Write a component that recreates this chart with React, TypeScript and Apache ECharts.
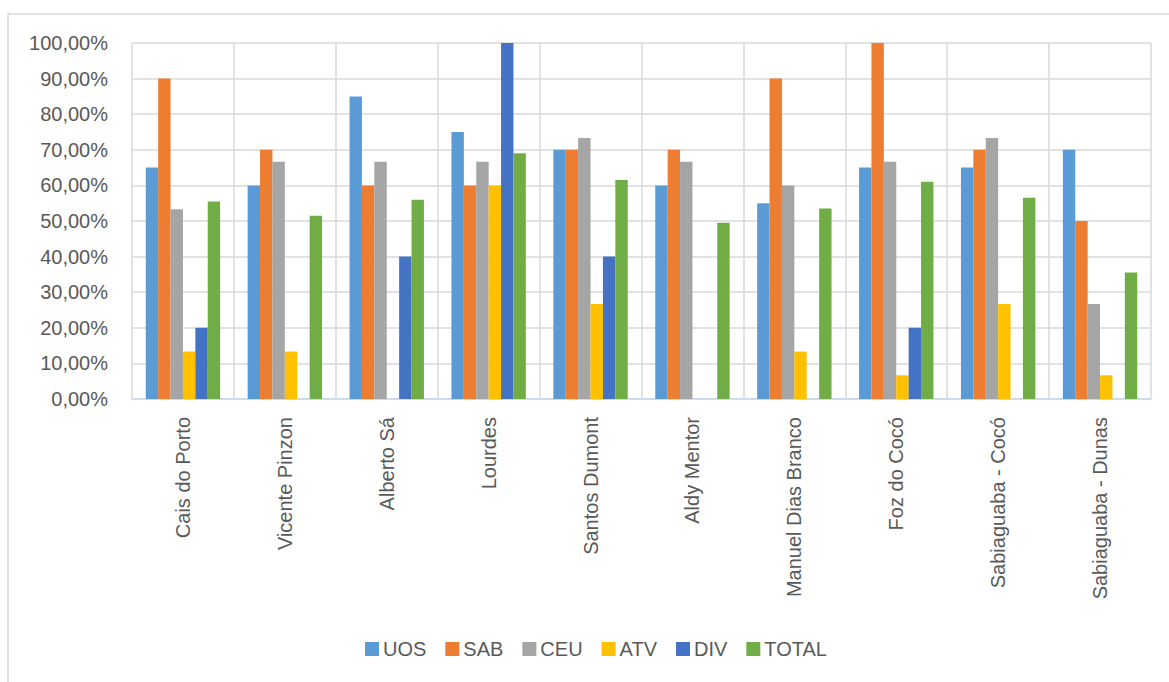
import React, { useEffect, useRef } from "react";
import * as echarts from "echarts";

// Neighbourhoods along the x axis
const categories = [
  "Cais do Porto",
  "Vicente Pinzon",
  "Alberto Sá",
  "Lourdes",
  "Santos Dumont",
  "Aldy Mentor",
  "Manuel Dias Branco",
  "Foz do Cocó",
  "Sabiaguaba - Cocó",
  "Sabiaguaba - Dunas",
];

// Indicator scores, in percent
const uos = [65, 60, 85, 75, 70, 60, 55, 65, 65, 70];
const sab = [90, 70, 60, 60, 70, 70, 90, 100, 70, 50];
const ceu = [53.33, 66.67, 66.67, 66.67, 73.33, 66.67, 60, 66.67, 73.33, 26.67];
const atv = [13.33, 13.33, 0, 60, 26.67, 0, 13.33, 6.67, 26.67, 6.67];
const div = [20, 0, 40, 100, 40, 0, 0, 20, 0, 0];
const total = [55.5, 51.5, 56, 69, 61.5, 49.5, 53.5, 61, 56.5, 35.5];

const seriesNames = ["UOS", "SAB", "CEU", "ATV", "DIV", "TOTAL"];
const seriesData = [uos, sab, ceu, atv, div, total];
const colors = ["#5b9bd5", "#ed7d31", "#a5a5a5", "#ffc000", "#4472c4", "#70ad47"];

const FONT = "'Liberation Sans', Arial, sans-serif";
const TEXT = "#595959";
const GRID = "#d9d9d9";

export default function App() {
  const ref = useRef<HTMLDivElement>(null);

  useEffect(() => {
    if (!ref.current) return;
    const chart = echarts.init(ref.current, undefined, { renderer: "svg" });
    chart.setOption({
      animation: false,
      backgroundColor: "#ffffff",
      color: colors,
      textStyle: { fontFamily: FONT },
      graphic: [
        {
          type: "rect",
          shape: { x: 8, y: 14, width: 1220, height: 720 },
          style: { fill: "none", stroke: GRID, lineWidth: 1.5 },
          silent: true,
        },
      ],
      grid: { left: 132, top: 43, right: 18, bottom: 283, containLabel: false },
      legend: {
        data: seriesNames,
        left: 360,
        top: 634,
        itemWidth: 14,
        itemHeight: 14,
        itemGap: 19,
        icon: "rect",
        textStyle: { color: TEXT, fontSize: 20, fontFamily: FONT, padding: [0, 0, 0, -1] },
      },
      xAxis: {
        type: "category",
        data: categories,
        boundaryGap: true,
        axisLine: { show: true, lineStyle: { color: "#c5daf0", width: 1.5 } },
        axisTick: { show: false },
        splitLine: { show: true, lineStyle: { color: GRID, width: 1.5 } },
        axisLabel: {
          rotate: 90,
          margin: 18,
          color: TEXT,
          fontSize: 20,
          fontFamily: FONT,
          interval: 0,
        },
      },
      yAxis: {
        type: "value",
        min: 0,
        max: 100,
        interval: 10,
        axisLine: { show: false },
        axisTick: { show: false },
        splitLine: { show: true, lineStyle: { color: GRID, width: 1.5 } },
        axisLabel: {
          margin: 24,
          color: TEXT,
          fontSize: 20,
          fontFamily: FONT,
          formatter: (v: number) => v.toFixed(2).replace(".", ",") + "%",
        },
      },
      series: seriesNames.map((name, i) => ({
        name,
        type: "bar",
        data: seriesData[i],
        barGap: "0%",
        barCategoryGap: "27%",
        itemStyle: { color: colors[i] },
      })),
    });
    return () => chart.dispose();
  }, []);

  return (
    <div
      ref={ref}
      style={{ position: "fixed", left: 0, top: 0, width: 1169, height: 682 }}
    />
  );
}
